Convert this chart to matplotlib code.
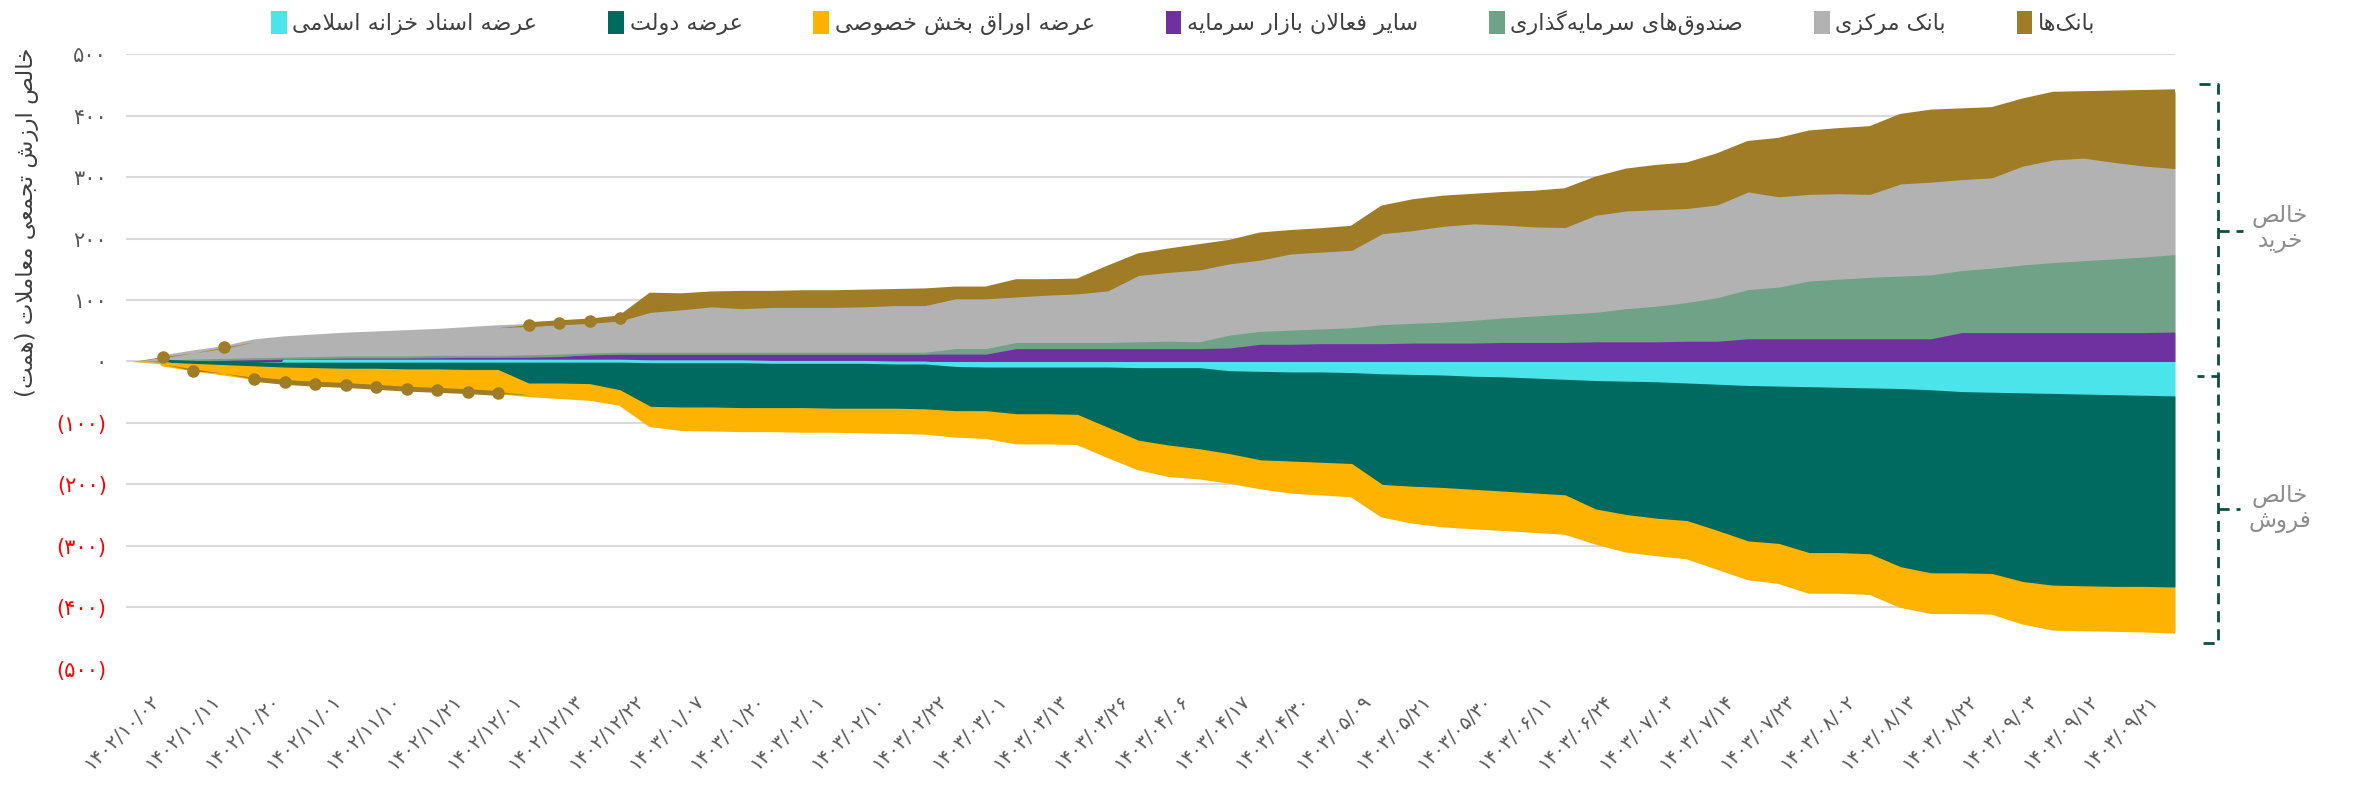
import numpy as np
import matplotlib.pyplot as plt
import matplotlib.transforms as mtransforms
from matplotlib.patches import Patch
from matplotlib.lines import Line2D

# tick labels (every 7th trading day) and y-axis labels
dates = ['۱۴۰۲/۱۰/۰۲', '۱۴۰۲/۱۰/۱۱', '۱۴۰۲/۱۰/۲۰', '۱۴۰۲/۱۱/۰۱', '۱۴۰۲/۱۱/۱۰', '۱۴۰۲/۱۱/۲۱',
         '۱۴۰۲/۱۲/۰۱', '۱۴۰۲/۱۲/۱۳', '۱۴۰۲/۱۲/۲۲', '۱۴۰۳/۰۱/۰۷', '۱۴۰۳/۰۱/۲۰', '۱۴۰۳/۰۲/۰۱',
         '۱۴۰۳/۰۲/۱۰', '۱۴۰۳/۰۲/۲۲', '۱۴۰۳/۰۳/۰۱', '۱۴۰۳/۰۳/۱۳', '۱۴۰۳/۰۳/۲۶', '۱۴۰۳/۰۴/۰۶',
         '۱۴۰۳/۰۴/۱۷', '۱۴۰۳/۰۴/۳۰', '۱۴۰۳/۰۵/۰۹', '۱۴۰۳/۰۵/۲۱', '۱۴۰۳/۰۵/۳۰', '۱۴۰۳/۰۶/۱۱',
         '۱۴۰۳/۰۶/۲۴', '۱۴۰۳/۰۷/۰۳', '۱۴۰۳/۰۷/۱۴', '۱۴۰۳/۰۷/۲۳', '۱۴۰۳/۰۸/۰۲', '۱۴۰۳/۰۸/۱۳',
         '۱۴۰۳/۰۸/۲۲', '۱۴۰۳/۰۹/۰۳', '۱۴۰۳/۰۹/۱۲', '۱۴۰۳/۰۹/۲۱']
ytick_vals = [-500, -400, -300, -200, -100, 0, 100, 200, 300, 400, 500]
ytick_text = ['(۵۰۰)', '(۴۰۰)', '(۳۰۰)', '(۲۰۰)', '(۱۰۰)', '۰', '۱۰۰', '۲۰۰', '۳۰۰', '۴۰۰', '۵۰۰']

# cumulative net value (hemat), sampled about every 3.5 trading days
others = [0, 1, 2, 3, 4, 5, 5, 6, 6, 6, 6, 7, 7, 7, 8, 11, 12, 12, 12, 12,
          12, 12, 12, 12, 12, 12, 12, 12, 12, 21, 21, 21, 21, 21, 21, 21, 22, 28, 28, 29,
          29, 29, 30, 30, 30, 31, 31, 31, 32, 32, 32, 33, 33, 37, 37, 37, 37, 37, 37, 37,
          47, 47, 47, 47, 47, 47, 47, 48]
funds = [0, 1, 2, 2, 2, 2, 3, 3, 3, 3, 4, 3, 3, 4, 4, 3, 3, 3, 3, 3,
         3, 3, 3, 3, 3, 3, 3, 9, 9, 10, 10, 10, 10, 11, 12, 11, 21, 21, 23, 24,
         26, 31, 32, 34, 37, 40, 43, 46, 48, 54, 58, 63, 71, 80, 84, 94, 97, 100, 102, 104,
         101, 105, 110, 114, 117, 120, 123, 126]
central_bank = [0, 4, 10, 16, 26, 30, 32, 34, 36, 38, 39, 42, 45, 46, 48, 48, 51, 65, 69, 74,
                71, 73, 73, 73, 74, 76, 76, 81, 81, 74, 77, 79, 84, 108, 112, 117, 116, 116, 124, 125,
                126, 148, 151, 156, 157, 151, 145, 141, 158, 159, 157, 153, 151, 159, 147, 141, 139, 135, 150, 151,
                148, 147, 161, 167, 167, 157, 148, 140]
banks = [0, 2, -3, 2, -3, -4, -4, -4, -4, -4, -4, -3, -3, 3, 3, 4, 5, 28, 23, 21,
         25, 23, 24, 24, 24, 23, 24, 16, 16, 25, 22, 21, 37, 32, 35, 38, 35, 41, 35, 35,
         36, 42, 47, 46, 45, 50, 55, 60, 59, 65, 69, 71, 80, 79, 92, 100, 103, 107, 110, 114,
         112, 111, 106, 107, 105, 113, 120, 125]
treasury = [0, 0, 0, 0, 0, -1, -1, -1, -1, -1, -1, -1, -1, -1, -1, -1, -1, -2, -2, -2,
            -2, -3, -3, -3, -3, -4, -4, -8, -9, -9, -9, -9, -9, -10, -10, -10, -15, -16, -17, -17,
            -18, -20, -21, -22, -24, -25, -27, -29, -31, -32, -33, -35, -37, -39, -40, -41, -42, -43, -44, -46,
            -49, -50, -51, -52, -53, -54, -55, -56]
government = [0, -1, -3, -5, -7, -8, -9, -10, -10, -11, -11, -12, -12, -34, -34, -35, -45, -71, -72, -72,
              -73, -72, -72, -73, -73, -72, -73, -72, -71, -76, -76, -77, -98, -118, -126, -132, -135, -144, -145, -147,
              -148, -180, -182, -183, -184, -186, -187, -188, -209, -217, -222, -224, -238, -253, -256, -270, -269, -270, -290, -298,
              -295, -295, -307, -312, -312, -312, -311, -311]
private_bonds = [0, -3, -9, -14, -19, -21, -23, -24, -27, -29, -31, -33, -36, -19, -22, -24, -22, -30, -35, -36,
                 -36, -36, -37, -36, -37, -38, -38, -40, -42, -46, -46, -46, -46, -45, -48, -46, -45, -44, -49, -50,
                 -51, -50, -57, -61, -61, -61, -61, -61, -54, -58, -58, -59, -60, -60, -62, -63, -63, -63, -63, -63,
                 -63, -63, -66, -70, -70, -70, -71, -72]

FORMS = {
    'ا': ('\uFE8D', '\uFE8E', None, None), 'ب': ('\uFE8F', '\uFE90', '\uFE91', '\uFE92'),
    'ت': ('\uFE95', '\uFE96', '\uFE97', '\uFE98'), 'ج': ('\uFE9D', '\uFE9E', '\uFE9F', '\uFEA0'),
    'خ': ('\uFEA5', '\uFEA6', '\uFEA7', '\uFEA8'), 'د': ('\uFEA9', '\uFEAA', None, None),
    'ذ': ('\uFEAB', '\uFEAC', None, None), 'ر': ('\uFEAD', '\uFEAE', None, None),
    'ز': ('\uFEAF', '\uFEB0', None, None), 'س': ('\uFEB1', '\uFEB2', '\uFEB3', '\uFEB4'),
    'ش': ('\uFEB5', '\uFEB6', '\uFEB7', '\uFEB8'), 'ص': ('\uFEB9', '\uFEBA', '\uFEBB', '\uFEBC'),
    'ض': ('\uFEBD', '\uFEBE', '\uFEBF', '\uFEC0'), 'ع': ('\uFEC9', '\uFECA', '\uFECB', '\uFECC'),
    'ف': ('\uFED1', '\uFED2', '\uFED3', '\uFED4'), 'ق': ('\uFED5', '\uFED6', '\uFED7', '\uFED8'),
    'ل': ('\uFEDD', '\uFEDE', '\uFEDF', '\uFEE0'), 'م': ('\uFEE1', '\uFEE2', '\uFEE3', '\uFEE4'),
    'ن': ('\uFEE5', '\uFEE6', '\uFEE7', '\uFEE8'), 'ه': ('\uFEE9', '\uFEEA', '\uFEEB', '\uFEEC'),
    'و': ('\uFEED', '\uFEEE', None, None), 'ی': ('\uFBFC', '\uFBFD', '\uFBFE', '\uFBFF'),
    'ک': ('\uFB8E', '\uFB8F', '\uFB90', '\uFB91'), 'گ': ('\uFB92', '\uFB93', '\uFB94', '\uFB95'),
}


def fa(text):
    # matplotlib has no arabic shaping: pick presentation forms and reverse
    out_lines = []
    for line in text.split('\n'):
        res = []
        prev = False
        i = 0
        while i < len(line):
            c = line[i]
            if c not in FORMS:
                if c != '\u200c':
                    res.append(c)
                prev = False
                i += 1
                continue
            if c == 'ل' and i + 1 < len(line) and line[i + 1] == 'ا':
                res.append('\uFEFC' if prev else '\uFEFB')
                prev = False
                i += 2
                continue
            iso, fin, ini, med = FORMS[c]
            nxt = i + 1 < len(line) and line[i + 1] in FORMS and ini is not None
            if prev and nxt:
                g = med
            elif prev:
                g = fin
            elif nxt:
                g = ini
            else:
                g = iso
            res.append(g)
            prev = ini is not None
            i += 1
        s = ''.join(reversed(res))
        s = s.replace('(', '\0').replace(')', '(').replace('\0', ')')
        out_lines.append(s)
    return '\n'.join(out_lines)


series = [
    (others, 'سایر فعالان بازار سرمایه', '#6f30a0'),
    (funds, 'صندوق‌های سرمایه‌گذاری', '#6fa287'),
    (central_bank, 'بانک مرکزی', '#b1b2b1'),
    (treasury, 'عرضه اسناد خزانه اسلامی', '#4ae4ea'),
    (government, 'عرضه دولت', '#006a60'),
    (private_bonds, 'عرضه اوراق بخش خصوصی', '#fdb300'),
    (banks, 'بانک‌ها', '#9f7c25'),
]

plt.rcParams['font.family'] = ['DejaVu Sans']
fig = plt.figure(figsize=(23.57, 7.98), dpi=100)
ax = fig.add_axes([0.0535, 0.162, 0.8693, 0.770])

x = np.linspace(0, 33.72, len(banks))
pos_base = np.zeros(len(x))
neg_base = np.zeros(len(x))
for vals, name, color in series:
    v = np.array(vals, dtype=float)
    p = np.clip(v, 0, None)
    n = np.clip(v, None, 0)
    # only the thin early banks values get round markers
    marks = list(np.nonzero((np.abs(v) > 0) & (np.abs(v) < 10))[0]) if vals is banks else None
    for part, base, sign in ((p, pos_base, 1), (n, neg_base, -1)):
        if not part.any():
            continue
        ax.fill_between(x, base, base + part, color=color, lw=0, zorder=2)
        edge = np.where(sign * part > 0, base + part, np.nan)
        ax.plot(x, edge, color=color, lw=3.5, solid_capstyle='round', solid_joinstyle='round',
                marker='o' if marks else None, markevery=marks, ms=8, zorder=2)
    pos_base = pos_base + p
    neg_base = neg_base + n

ax.set_xlim(-0.1, 33.72)
ax.set_ylim(-500, 500)
ax.set_yticks(ytick_vals)
ax.set_yticklabels(ytick_text)
for lbl, val in zip(ax.get_yticklabels(), ytick_vals):
    if val < 0:
        lbl.set_color('#ff0000')
    else:
        lbl.set_color('#595959')
ax.tick_params(axis='y', length=0, pad=14, labelsize=15)
ax.set_xticks(np.arange(len(dates)))
ax.set_xticklabels(dates, rotation=45, ha='right', va='top', rotation_mode='anchor',
                   fontsize=14, color='#595959')
ax.tick_params(axis='x', length=0, pad=16)
shift = mtransforms.ScaledTranslation(0.17, 0, fig.dpi_scale_trans)
for lbl in ax.get_xticklabels():
    lbl.set_transform(lbl.get_transform() + shift)
ax.grid(axis='y', color='#d9d9d9', lw=1.5, zorder=0)
ax.yaxis.get_gridlines()[0].set_visible(False)
ax.set_axisbelow(True)
for s in ax.spines.values():
    s.set_visible(False)

fig.text(0.0115, 0.722, fa('خالص ارزش تجمعی معاملات (همت)'), rotation=90,
         ha='center', va='center', fontsize=16.5, color='#404040')

# legend, right-to-left order
order = [3, 4, 5, 0, 1, 2, 6]
handles = [Patch(facecolor=series[i][2], edgecolor='none') for i in order]
labels = [fa(series[i][1]) for i in order]
fig.legend(handles, labels, loc='center', bbox_to_anchor=(0.502, 0.972), ncol=7, frameon=False,
           fontsize=16, handlelength=0.7, handleheight=1.2, handletextpad=0.25, columnspacing=3.2,
           labelcolor='#404040')

# brackets for net buy / net sell
W, H = 2357.0, 798.0
dash = dict(color='#0d4f3f', lw=2, ls=(0, (4, 2.5)))


def fline(xs, ys):
    fig.add_artist(Line2D([xx / W for xx in xs], [1 - yy / H for yy in ys],
                          transform=fig.transFigure, **dash))


fline([2199, 2218, 2218, 2197], [84, 84, 376, 376])
fline([2218, 2243], [231, 231])
fline([2218, 2218, 2197], [376, 643, 643])
fline([2218, 2240], [509, 509])
fig.text(2280 / W, 1 - 229 / H, fa('خالص\nخرید'), ha='center', va='center',
         fontsize=16.5, color='#8c8c8c', multialignment='center', linespacing=1.1)
fig.text(2280 / W, 1 - 509 / H, fa('خالص\nفروش'), ha='center', va='center',
         fontsize=16.5, color='#8c8c8c', multialignment='center', linespacing=1.1)

fig.savefig('out.png', dpi=100)
